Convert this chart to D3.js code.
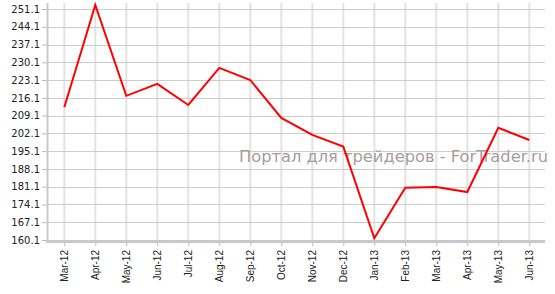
<!DOCTYPE html>
<html>
<head>
<meta charset="utf-8">
<script src="https://cdn.jsdelivr.net/npm/d3@7"></script>
<style>
	body { margin: 0; background: #fff; }
	.yAxis text { font-family: "DejaVu Sans", Verdana, sans-serif; font-size: 10px; fill: #222; }
	.xAxis text { font-family: "Liberation Sans", Arial, sans-serif; font-size: 10px; fill: #222; }
	.mark { font-family: "DejaVu Sans", Verdana, sans-serif; font-size: 16px; fill: #a89c9c; }
</style>
</head>
<body>
<div id="chart"></div>
<script>
var months = ["Mar-12","Apr-12","May-12","Jun-12","Jul-12","Aug-12","Sep-12","Oct-12",
	"Nov-12","Dec-12","Jan-13","Feb-13","Mar-13","Apr-13","May-13","Jun-13"];
var prices = [212.4, 252.7, 216.9, 221.6, 213.3, 227.9, 223.1, 208.2,
	201.5, 196.9, 160.8, 180.7, 181.0, 179.0, 204.3, 199.5];
var yTicks = [160.1, 167.1, 174.1, 181.1, 188.1, 195.1, 202.1, 209.1,
	216.1, 223.1, 230.1, 237.1, 244.1, 251.1];

var width = 555, height = 294;
var margin = {top: 3, left: 47, right: 10, bottom: 53};

var svg = d3.select("#chart")
	.append("svg")
	.attr("width", width)
	.attr("height", height)
;

var xScale = d3.scalePoint()
	.domain(months)
	.range([64.3, 529.3])
;

var yScale = d3.scaleLinear()
	.domain([160.1, 251.1])
	.range([240, 9])
;

/*
	Grid
*/
svg.append("g")
	.selectAll("line")
	.data(months)
	.enter()
	.append("line")
	.attr("x1", function(d) { return xScale(d); })
	.attr("x2", function(d) { return xScale(d); })
	.attr("y1", margin.top)
	.attr("y2", 241)
	.attr("stroke", "#e2e2e2")
	.attr("stroke-width", 2)
;

svg.append("g")
	.selectAll("line")
	.data(yTicks)
	.enter()
	.append("line")
	.attr("x1", margin.left)
	.attr("x2", width - margin.right)
	.attr("y1", function(d) { return Math.round(yScale(d)) + 0.5; })
	.attr("y2", function(d) { return Math.round(yScale(d)) + 0.5; })
	.attr("stroke", "#cccccc")
	.attr("stroke-width", 1)
;

/*
	Axes
*/
var yAxis = svg.append("g")
	.attr("class", "yAxis")
	.attr("transform", "translate(" + margin.left + ",0)")
	.call(d3.axisLeft(yScale).tickValues(yTicks).tickSize(5).tickPadding(2)
		.tickFormat(d3.format(".1f")))
;
yAxis.select(".domain").remove();
yAxis.selectAll(".tick line").attr("stroke", "#bbb");

var xAxis = svg.append("g")
	.attr("class", "xAxis")
	.attr("transform", "translate(0,241)")
	.call(d3.axisBottom(xScale).tickSize(5))
;
xAxis.select(".domain").remove();
xAxis.selectAll(".tick line").attr("stroke", "#bbb");
xAxis.selectAll(".tick text")
	.attr("transform", "rotate(-90)")
	.attr("text-anchor", "end")
	.attr("x", -9)
	.attr("y", 0)
	.attr("dy", "0.35em")
;

svg.append("line")
	.attr("x1", 47.5).attr("x2", 47.5)
	.attr("y1", margin.top).attr("y2", 242)
	.attr("stroke", "#c8c8c8")
	.attr("stroke-width", 2)
;
svg.append("line")
	.attr("x1", 46).attr("x2", width - margin.right)
	.attr("y1", 241.5).attr("y2", 241.5)
	.attr("stroke", "#c8c8c8")
	.attr("stroke-width", 3)
;

/*
	Watermark
*/
svg.append("text")
	.attr("class", "mark")
	.attr("x", 239)
	.attr("y", 162)
	.attr("textLength", 309)
	.attr("lengthAdjust", "spacingAndGlyphs")
	.text("Портал для трейдеров - ForTrader.ru")
;

/*
	Price line
*/
var line = d3.line()
	.x(function(d, i) { return xScale(months[i]); })
	.y(function(d) { return yScale(d); })
;

svg.append("path")
	.datum(prices)
	.attr("d", line)
	.attr("fill", "none")
	.attr("stroke", "#ff0000")
	.attr("stroke-width", 2)
	.attr("stroke-linejoin", "miter")
;
</script>
</body>
</html>
